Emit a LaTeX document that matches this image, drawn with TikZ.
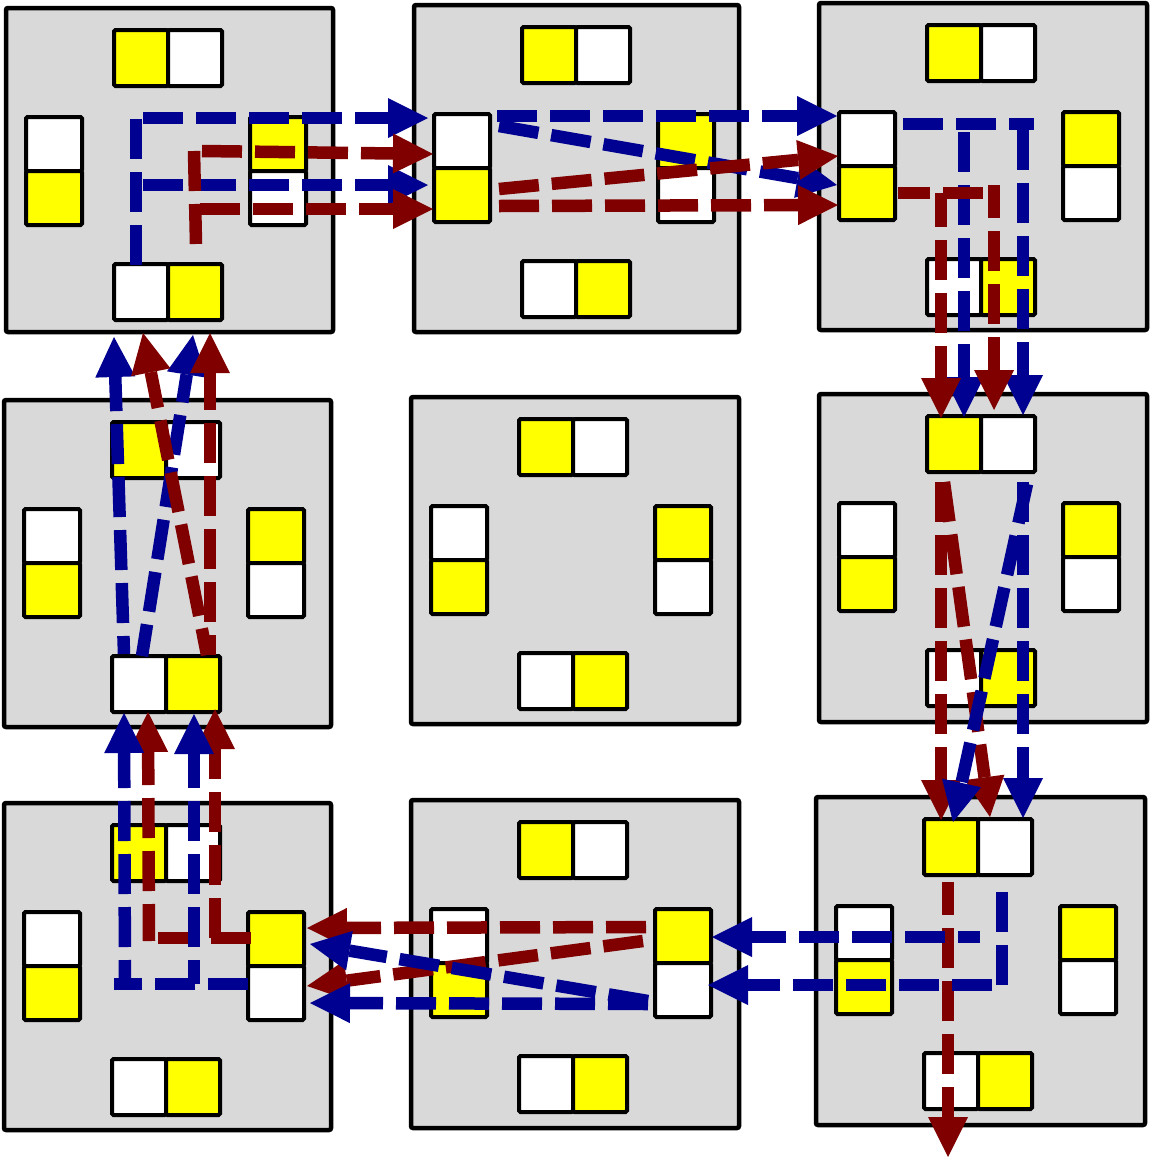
\documentclass[tikz,border=0pt]{standalone}
\usetikzlibrary{arrows.meta}
\definecolor{flowblue}{RGB}{0,0,145}
\definecolor{flowred}{RGB}{128,0,0}
\definecolor{boxgray}{RGB}{217,217,217}
\definecolor{cellyellow}{RGB}{255,255,0}
\begin{document}
\begin{tikzpicture}[x=1pt,y=-1pt,
  bigbox/.style={draw=black, fill=boxgray, line width=4.5pt, rounded corners=2pt, inner sep=0pt, outer sep=0pt},
  cell/.style={draw=black, line width=4pt, rounded corners=1.5pt, inner sep=0pt, outer sep=0pt},
  hcell/.style={cell, minimum width=54pt, minimum height=56pt},
  vcell/.style={cell, minimum width=56pt, minimum height=54pt},
  flowline/.style={line width=12.5pt, dash pattern=on 40pt off 13pt},
  flow/.style={flowline, -{Triangle[length=40pt,width=40pt,line width=0pt]}},
  bflow/.style={flow, draw=flowblue},
  rflow/.style={flow, draw=flowred},
  bline/.style={flowline, draw=flowblue},
  rline/.style={flowline, draw=flowred},
]
\fill[white] (0,0) rectangle (1151,1157);
\useasboundingbox (0,0) rectangle (1151,1157);

% boxes with their four two-cell slots
\foreach \n/\bx/\by/\w/\h in {A/6/8/327/324, B/414/5/325/327, C/819/3/328/327,
    D/4/400/327/327, E/411/397/328/327, F/819/394/328/328,
    G/4/803/327/327, H/411/800/328/328, I/816/797/329/328}{
  \node[bigbox, minimum width=\w pt, minimum height=\h pt] (\n) at ({\bx+\w/2},{\by+\h/2}) {};
  \node[hcell, fill=cellyellow] (\n-t1) at ({\bx+135},{\by+50}) {};
  \node[hcell, fill=white]      (\n-t2) at ({\bx+189},{\by+50}) {};
  \node[hcell, fill=white]      (\n-b1) at ({\bx+135},{\by+284}) {};
  \node[hcell, fill=cellyellow] (\n-b2) at ({\bx+189},{\by+284}) {};
  \node[vcell, fill=white]      (\n-l1) at ({\bx+48},{\by+136}) {};
  \node[vcell, fill=cellyellow] (\n-l2) at ({\bx+48},{\by+190}) {};
  \node[vcell, fill=cellyellow] (\n-r1) at ({\bx+272},{\by+136}) {};
  \node[vcell, fill=white]      (\n-r2) at ({\bx+272},{\by+190}) {};
}

% ---------- box A -> box B
\coordinate (bA-v0) at (136,265);
\coordinate (bA-v1) at (136,118);
\coordinate (bA-h1) at (143,118);
\coordinate (bA-e1) at (428,118);
\coordinate (bA-h2) at (143,185);
\coordinate (bA-e2) at (428,185);
\coordinate (rA-v0) at (194,151);
\coordinate (rA-v1) at (196,244);
\coordinate (rA-h1) at (202,151);
\coordinate (rA-e1) at (433,154);
\coordinate (rA-h2) at (200,209);
\coordinate (rA-e2) at (433,209);
\draw[bline] (bA-v0) -- (bA-v1);
\draw[bflow] (bA-h1) -- (bA-e1);
\draw[bflow] (bA-h2) -- (bA-e2);
\draw[rline] (rA-v0) -- (rA-v1);
\draw[rflow] (rA-h1) -- (rA-e1);
\draw[rflow] (rA-h2) -- (rA-e2);

% ---------- box B -> box C
\coordinate (bB-s1) at (497,116);
\coordinate (bB-e1) at (837,116);
\coordinate (bB-s2) at (499,126);
\coordinate (bB-e2) at (837,185);
\coordinate (rB-s1) at (499,189);
\coordinate (rB-e1) at (838,156);
\coordinate (rB-s2) at (499,206);
\coordinate (rB-e2) at (838,205);
\draw[bflow] (bB-s1) -- (bB-e1);
\draw[bflow] (bB-s2) -- (bB-e2);
\draw[rflow] (rB-s1) -- (rB-e1);
\draw[rflow] (rB-s2) -- (rB-e2);

% ---------- box C -> box F
\coordinate (bC-h0) at (903,124);
\coordinate (bC-h1) at (1034,124);
\coordinate (bC-s1) at (964,132);
\coordinate (bC-e1) at (964,417);
\coordinate (bC-s2) at (1023,130);
\coordinate (bC-e2) at (1023,415);
\coordinate (rC-h0) at (898,193);
\coordinate (rC-h1) at (990,193);
\coordinate (rC-s1) at (941,193);
\coordinate (rC-e1) at (941,418);
\coordinate (rC-s2) at (994,185);
\coordinate (rC-e2) at (994,410);
\draw[bline] (bC-h0) -- (bC-h1);
\draw[bflow] (bC-s1) -- (bC-e1);
\draw[bflow] (bC-s2) -- (bC-e2);
\draw[rline, dash phase=8pt] (rC-h0) -- (rC-h1);
\draw[rflow, dash phase=6pt] (rC-s1) -- (rC-e1);
\draw[rflow, dash phase=7pt] (rC-s2) -- (rC-e2);

% ---------- box F -> box I
\coordinate (rF-s1) at (941,482);
\coordinate (rF-e1) at (941,820);
\coordinate (rF-s2) at (944,482);
\coordinate (rF-e2) at (990,817);
\coordinate (bF-s1) at (1023,482);
\coordinate (bF-e1) at (1023,818);
\coordinate (bF-s2) at (1027,484);
\coordinate (bF-e2) at (953,822);
\draw[rflow] (rF-s1) -- (rF-e1);
\draw[rflow] (rF-s2) -- (rF-e2);
\draw[bflow] (bF-s1) -- (bF-e1);
\draw[bflow] (bF-s2) -- (bF-e2);

% ---------- box I -> out and -> box H
\coordinate (rI-s) at (948,882);
\coordinate (rI-e) at (948,1157);
\coordinate (bI-v0) at (1002,892);
\coordinate (bI-v1) at (1002,985);
\coordinate (bI-h1) at (980,937);
\coordinate (bI-e1) at (712,937);
\coordinate (bI-h2) at (992,985);
\coordinate (bI-e2) at (708,985);
\draw[rflow, dash phase=7pt] (rI-s) -- (rI-e);
\draw[bline] (bI-v0) -- (bI-v1);
\draw[bflow, dash phase=18pt] (bI-h1) -- (bI-e1);
\draw[bflow] (bI-h2) -- (bI-e2);

% ---------- box H -> box G
\coordinate (rH-s1) at (646,927);
\coordinate (rH-e1) at (307,928);
\coordinate (rH-s2) at (643,941);
\coordinate (rH-e2) at (307,986);
\coordinate (bH-s1) at (648,1004);
\coordinate (bH-e1) at (310,1003);
\coordinate (bH-s2) at (648,1001);
\coordinate (bH-e2) at (310,944);
\draw[rflow] (rH-s1) -- (rH-e1);
\draw[rflow] (rH-s2) -- (rH-e2);
\draw[bflow] (bH-s1) -- (bH-e1);
\draw[bflow] (bH-s2) -- (bH-e2);

% ---------- box G -> box D
\coordinate (bG-h0) at (248,984);
\coordinate (bG-h1) at (114,984);
\coordinate (bG-s1) at (125,984);
\coordinate (bG-e1) at (124,713);
\coordinate (bG-s2) at (194,984);
\coordinate (bG-e2) at (194,714);
\coordinate (rG-h0) at (251,938);
\coordinate (rG-h1) at (155,938);
\coordinate (rG-s1) at (149,941);
\coordinate (rG-e1) at (148,712);
\coordinate (rG-s2) at (215,938);
\coordinate (rG-e2) at (215,709);
\draw[bline] (bG-h0) -- (bG-h1);
\draw[rline] (rG-h0) -- (rG-h1);
\draw[rflow, dash phase=3pt] (rG-s1) -- (rG-e1);
\draw[rflow] (rG-s2) -- (rG-e2);
\draw[bflow, dash phase=16pt] (bG-s1) -- (bG-e1);
\draw[bflow, dash phase=16pt] (bG-s2) -- (bG-e2);

% ---------- box D -> box A
\coordinate (bD-s1) at (124,654);
\coordinate (bD-e1) at (114,337);
\coordinate (bD-s2) at (142,656);
\coordinate (bD-e2) at (193,335);
\coordinate (rD-s1) at (207,655);
\coordinate (rD-e1) at (143,333);
\coordinate (rD-s2) at (210,655);
\coordinate (rD-e2) at (210,333);
\draw[bflow, dash phase=22pt] (bD-s1) -- (bD-e1);
\draw[bflow, dash phase=8pt] (bD-s2) -- (bD-e2);
\draw[rflow, dash phase=13pt] (rD-s1) -- (rD-e1);
\draw[rflow, dash phase=20pt] (rD-s2) -- (rD-e2);
\end{tikzpicture}
\end{document}
